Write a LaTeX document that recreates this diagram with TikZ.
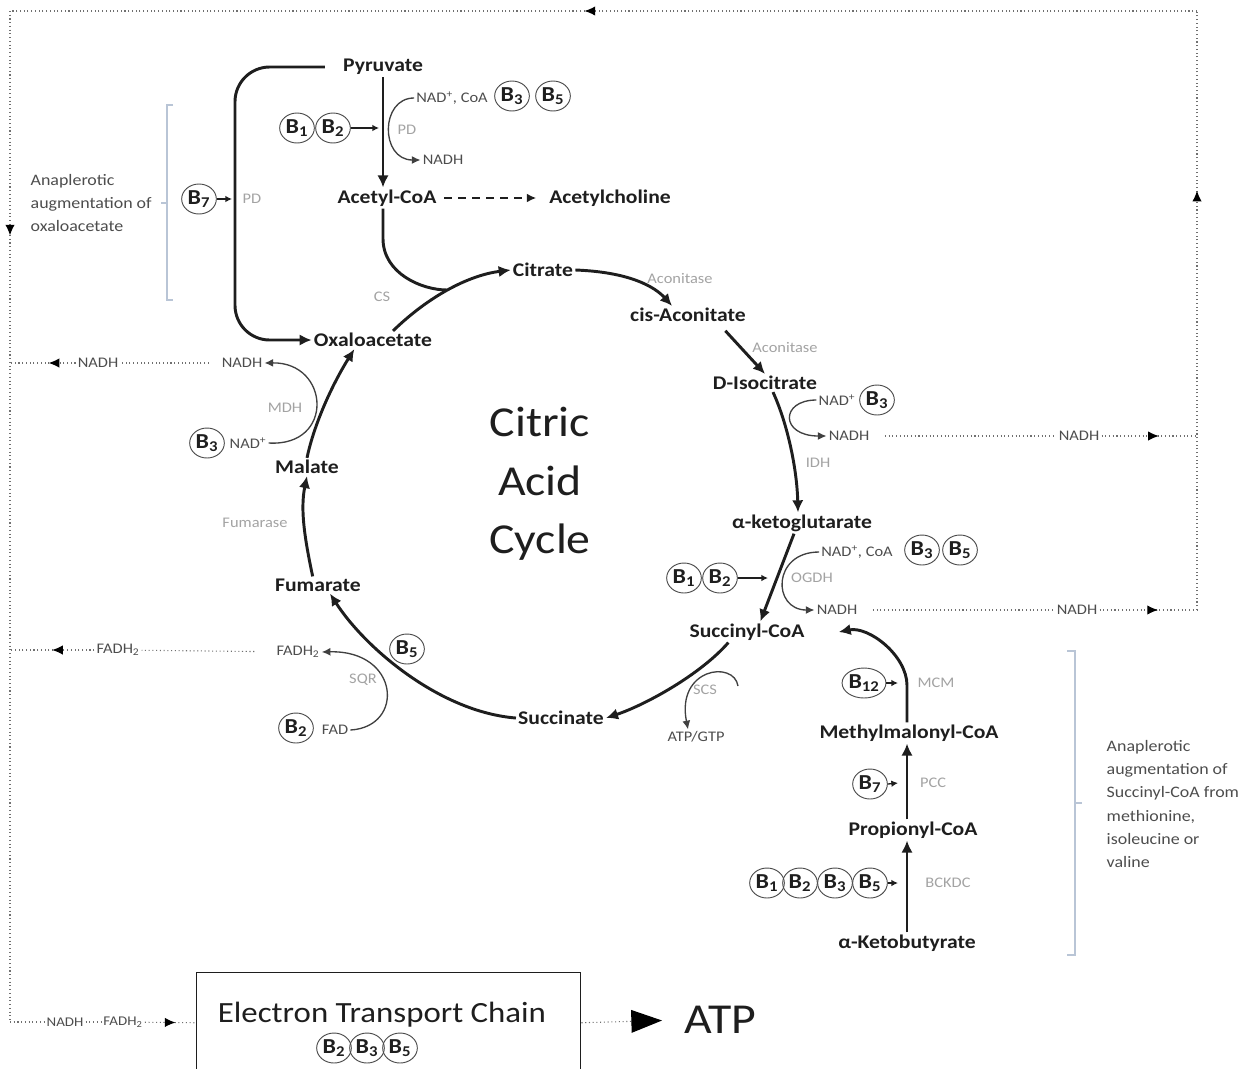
\documentclass[tikz,border=0pt]{standalone}
\usepackage{fontspec}
\setmainfont{Carlito}[FakeStretch=1.12]
\usepackage{tikz}
\usetikzlibrary{arrows.meta,calc,shapes.geometric,decorations.markings}
\definecolor{ink}{HTML}{1E1E1E}
\definecolor{soft}{HTML}{4D4D4D}
\definecolor{enz}{HTML}{A3A3A3}
\definecolor{flowc}{HTML}{707070}
\definecolor{brack}{HTML}{B9C5D6}

\begin{document}
\begin{tikzpicture}[x=0.75pt, y=-0.75pt, >=Latex,
  met/.style={font=\fontsize{14.5}{16}\selectfont\bfseries, text=ink, inner sep=1.5pt},
  lab/.style={font=\fontsize{11}{13}\selectfont, text=soft, inner sep=1.5pt},
  enzyme/.style={font=\fontsize{11}{13}\selectfont, text=enz, inner sep=1pt},
  vit/.style={ellipse, draw=black!70, line width=0.7pt, minimum width=26pt, minimum height=22.5pt,
    inner sep=0pt, font=\fontsize{16}{16}\selectfont\bfseries, text=ink},
  rxn/.style={draw=ink, line width=2.2pt, -{Latex[length=9pt,width=8.5pt]}},
  side/.style={draw=black!75, line width=1pt, -{Latex[length=6.5pt,width=6pt]}},
  cof/.style={draw=ink, line width=1pt, -{Latex[length=5pt,width=5pt]}},
  flow/.style={draw=flowc, dotted, line width=0.8pt},
  flowmark/.style={postaction={decorate, decoration={markings,
      mark=at position #1 with {\arrow[black]{Latex[length=8pt,width=7pt]}}}}},
  note/.style={font=\fontsize{12}{17.4}\selectfont, text=soft, align=left, anchor=west}]
  \useasboundingbox (0,0) rectangle (1251,1068);

  % metabolites
  \node[met] (pyr) at (383,67) {Pyruvate};
  \node[met] (acoa) at (387,198) {Acetyl-CoA};
  \node[met] (ach) at (610,198) {Acetylcholine};
  \node[met] (cit) at (543,270) {Citrate};
  \node[met] (cis) at (688,315) {cis-Aconitate};
  \node[met] (iso) at (765,383) {D-Isocitrate};
  \node[met] (akg) at (802,523) {α-ketoglutarate};
  \node[met] (scoa) at (747,632) {Succinyl-CoA};
  \node[met] (suc) at (561,718) {Succinate};
  \node[met] (fum) at (318,585) {Fumarate};
  \node[met] (mal) at (307,467) {Malate};
  \node[met] (oaa) at (373,340) {Oxaloacetate};
  \node[met] (mmcoa) at (909,733) {Methylmalonyl-CoA};
  \node[met] (pcoa) at (913,830) {Propionyl-CoA};
  \node[met] (akb) at (907,943) {α-Ketobutyrate};

  % cofactors and products
  \node[lab] (nadPD) at (452,98) {NAD\textsuperscript{+}, CoA};
  \node[lab] (nadhPD) at (443,160) {NADH};
  \node[lab] (nadI) at (837,400) {NAD\textsuperscript{+}};
  \node[lab] (nadhI) at (849,436) {NADH};
  \node[lab] (nadK) at (857,552) {NAD\textsuperscript{+}, CoA};
  \node[lab] (nadhK) at (837,610) {NADH};
  \node[lab] (atp) at (696,737) {ATP/GTP};
  \node[lab] (fadhS) at (298,652) {FADH\textsubscript{2}};
  \node[lab] (fad) at (335,730) {FAD};
  \node[lab] (nadM) at (248,443) {NAD\textsuperscript{+}};
  \node[lab] (nadhM) at (242,363) {NADH};
  \node[lab] (rNadhM) at (98,363) {NADH};
  \node[lab] (rFadh) at (118,650) {FADH\textsubscript{2}};
  \node[lab] (rNadhI) at (1079,436) {NADH};
  \node[lab] (rNadhK) at (1077,610) {NADH};
  \node[lab, font=\fontsize{10}{11}\selectfont] (bNadh) at (65,1022) {NADH};
  \node[lab, font=\fontsize{10}{11}\selectfont] (bFadh) at (123,1022) {FADH\textsubscript{2}};

  % enzymes
  \foreach \nm/\txt/\px/\py in {PDa/PD/407/130, PDb/PD/252/199, CS/CS/382/297,
      ACa/Aconitase/680/278, ACb/Aconitase/785/347, IDH/IDH/818/463, OGDH/OGDH/812/578,
      SCS/SCS/705/690, SQR/SQR/363/680, FUM/Fumarase/255/523, MDH/MDH/285/408,
      MCM/MCM/936/683, PCC/PCC/933/783, BCKDC/BCKDC/948/883}
    \node[enzyme] (e\nm) at (\px,\py) {\txt};

  % vitamins
  \foreach \nm/\sb/\px/\py in {pd1/1/297/128, pd2/2/333/128, pd3/3/512/96, pd5/5/553/96,
      pc7/7/199/199, idh3/3/877/400, kg1/1/684/578, kg2/2/720/578, kg3/3/922/550,
      kg5/5/960/550, sq5/5/407/649, sq2/2/296/728, md3/3/207/443, mc12/12/864/683,
      pcc7/7/870/784, bk1/1/767/883, bk2/2/800/883, bk3/3/835/883, bk5/5/870/883,
      et2/2/334/1048, et3/3/367/1048, et5/5/400/1048}
    \node[vit] (v\nm) at (\px,\py) {B\textsubscript{\sb}};

  \coordinate (pdin) at (379,128);
  \coordinate (b7in) at (232,199);
  \coordinate (ogdhin) at (768,578);
  \coordinate (scsin) at (738,686);
  \coordinate (csj) at (447,290);
  \coordinate (loop) at (235,200);
  \coordinate (mcmin) at (898,683);
  \coordinate (pccin) at (898,783);
  \coordinate (bkin) at (898,883);

  % the cycle
  \draw[rxn] (pyr.south) -- (pyr.south |- acoa.north);
  \draw[side] (nadPD.west) .. controls (380,98) and (380,160) .. (nadhPD.west);
  \draw[cof] (vpd2.east) -- (pdin);
  \draw[draw=ink, line width=1.6pt, dash pattern=on 6pt off 4.5pt, -{Latex[length=7pt,width=6.5pt]},
    shorten <=4pt, shorten >=8pt] (acoa) -- (ach);
  \draw[draw=ink, line width=2.2pt] (acoa.south -| pyr.south) -- ++(0,30)
    .. controls +(0,35) and +(-25,0) .. (csj);
  \draw[rxn] ([xshift=15pt]oaa.north) .. controls (430,295) and (470,275) .. (cit.west);
  \draw[rxn] (cit.east) .. controls (630,272) and (655,287) .. ([xshift=-12pt]cis.north);
  \draw[rxn] ([xshift=28pt,yshift=-5pt]cis.south) -- (iso.north);
  \draw[rxn] ([xshift=6pt]iso.south) .. controls (788,425) and (797,470) .. ([xshift=-3pt]akg.north);
  \draw[side] (nadI.west) .. controls (780,400) and (780,436) .. (nadhI.west);
  \draw[rxn] ([xshift=-6pt]akg.south) -- ([xshift=10pt]scoa.north);
  \draw[side] (nadK.west) .. controls (772,552) and (772,610) .. (nadhK.west);
  \draw[cof] (vkg2.east) -- (ogdhin);
  \draw[rxn] ([xshift=-14pt]scoa.south) .. controls (700,675) and (645,705) .. (suc.east);
  \draw[side] (scsin) .. controls (734,660) and (676,668) .. ([xshift=-6pt]atp.north);
  \draw[rxn] (suc.west) .. controls (440,712) and (365,648) .. ([xshift=9pt]fum.south);
  \draw[side] (fad.east) .. controls (405,727) and (400,650) .. (fadhS.east);
  \draw[rxn] ([xshift=-4pt]fum.north) .. controls (305,540) and (300,510) .. (mal.south);
  \draw[rxn] (mal.north) .. controls (315,420) and (335,380) .. ([xshift=-14pt]oaa.south);
  \draw[side] (nadM.east) .. controls (335,447) and (330,362) .. (nadhM.east);
  \draw[rxn, rounded corners=26pt] ([xshift=-12pt]pyr.west) -- (pyr.west -| loop)
    -- (oaa.west -| loop) -- (oaa.west);
  \draw[cof] (vpc7.east) -- (b7in);

  % succinyl-CoA from amino acids
  \draw[rxn] (mmcoa.north -| akb.north) -- ++(0,-37)
    .. controls +(0,-30) and +(30,-6) .. ([xshift=24pt]scoa.east);
  \draw[cof] (vmc12.east) -- (mcmin);
  \draw[rxn] (pcoa.north -| akb.north) -- (mmcoa.south -| akb.north);
  \draw[cof] (vpcc7.east) -- (pccin);
  \draw[rxn] (akb.north) -- (pcoa.south -| akb.north);
  \draw[cof] (vbk5.east) -- (bkin);

  \node[font=\fontsize{32}{44}\selectfont, text=ink, align=center] (cac) at (540,484) {Citric\\Acid\\Cycle};

  % brackets
  \draw[brack, line width=0.8pt] (173,105) -- (167,105) -- (167,300) -- (173,300) (167,203) -- (161,203);
  \draw[brack, line width=0.8pt] (1067,651) -- (1075,651) -- (1075,955) -- (1067,955) (1075,803) -- (1082,803);
  \node[note] (anaOAA) at (26,203) {Anaplerotic\\augmentation of\\oxaloacetate};
  \node[note] (anaSCoA) at (1102,804) {Anaplerotic\\augmentation of\\Succinyl-CoA from\\methionine,\\isoleucine or\\valine};

  % electron transport chain
  \node[draw=ink, line width=1.1pt, minimum width=288pt, minimum height=75pt, anchor=north west,
    inner sep=0pt] (etcbox) at (196,972) {};
  \node[font=\fontsize{22}{24}\selectfont, text=ink] (etc) at (382,1015) {Electron Transport Chain};
  \node[font=\fontsize{32}{34}\selectfont, text=ink] (atpbig) at (720,1020) {ATP};
  \draw[flow, -{Triangle[length=23pt,width=17pt,color=black]}, shorten >=13pt] (etcbox.east) -- (atpbig.west);

  % NADH / FADH2 to the chain
  \coordinate (ftl) at (10,11);
  \coordinate (ftr) at (1197,11);
  \coordinate (fbl) at (10,1022);
  \coordinate (frI) at (1197,436);
  \coordinate (frK) at (1197,610);
  \coordinate (flM) at (10,363);
  \coordinate (flF) at (10,650);
  \draw[flow, shorten <=10pt] (nadhI) -- (rNadhI);
  \draw[flow, flowmark=0.6] (rNadhI) -- (frI);
  \draw[flow, shorten <=10pt] (nadhK) -- (rNadhK);
  \draw[flow, flowmark=0.6] (rNadhK) -- (frK);
  \draw[flow, flowmark=0.7] (frK) -- (ftr);
  \draw[flow, flowmark=0.516] (ftr) -- (ftl);
  \draw[flow, flowmark=0.222] (ftl) -- (fbl);
  \draw[flow] (fbl) -- (bNadh) -- (bFadh);
  \draw[flow, flowmark=0.6] (bFadh) -- (etcbox.west);
  \draw[flow, shorten <=8pt] (nadhM) -- (rNadhM);
  \draw[flow, flowmark=0.41] (rNadhM) -- (flM);
  \draw[flow, shorten <=15pt] (fadhS) -- (rFadh);
  \draw[flow, flowmark=0.5] (rFadh) -- (flF);
\end{tikzpicture}
\end{document}
